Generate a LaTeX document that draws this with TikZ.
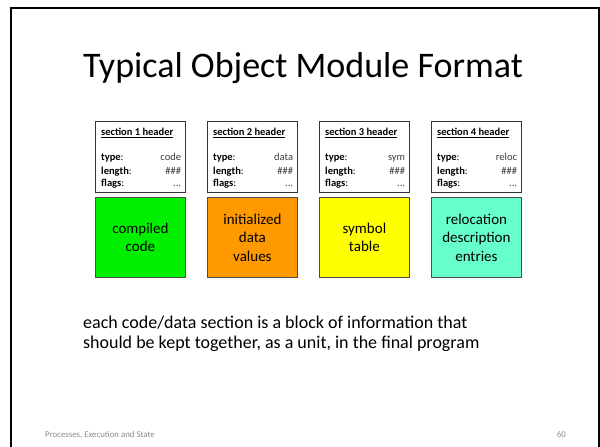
\documentclass[tikz,border=0pt]{standalone}
\usepackage{fontspec}
\setmainfont{Carlito}
\definecolor{codegreen}{RGB}{0,240,0}
\definecolor{dataorange}{RGB}{255,153,0}
\definecolor{symyellow}{RGB}{255,255,0}
\definecolor{relocaqua}{RGB}{102,255,204}
\definecolor{footgray}{RGB}{140,140,140}
\definecolor{valgray}{RGB}{60,60,60}
\tikzset{
  hdr/.style={draw=black!80, line width=0.8pt, fill=white, minimum width=90pt, minimum height=71pt,
    inner sep=0pt, anchor=north west},
  hdrtxt/.style={inner sep=0pt, font=\fontsize{10.5}{11}\selectfont},
  hdrval/.style={hdrtxt, text=valgray},
  body/.style={draw=black!70, line width=0.8pt, minimum width=90pt, minimum height=80pt,
    text width=86pt, align=center, inner sep=0pt, font=\fontsize{15}{18.5}\selectfont, anchor=north west},
  foot/.style={inner sep=0pt, text=footgray, font=\fontsize{8.8}{10}\selectfont},
}
% a section header box with its four text lines
\newcommand{\sectionheader}[4]{% name, left x, number, type value
  \node[hdr] (#1) at (#2,121) {};
  \node[hdrtxt, anchor=base west] (#1-title) at ([xshift=6pt,yshift=-14.5pt]#1.north west) {\underline{\textbf{section #3 header}}};
  \node[hdrtxt, anchor=base west] (#1-type) at ([xshift=6pt,yshift=-39.5pt]#1.north west) {\textbf{type}:};
  \node[hdrval, anchor=base east] (#1-typev) at ([xshift=-4.5pt,yshift=-39.5pt]#1.north east) {#4};
  \node[hdrtxt, anchor=base west] (#1-len) at ([xshift=6pt,yshift=-53pt]#1.north west) {\textbf{length}:};
  \node[hdrval, anchor=base east] (#1-lenv) at ([xshift=-4.5pt,yshift=-53pt]#1.north east) {\#\#\#};
  \node[hdrtxt, anchor=base west] (#1-flags) at ([xshift=6pt,yshift=-65pt]#1.north west) {\textbf{flags}:};
  \node[hdrval, anchor=base east] (#1-flagsv) at ([xshift=-4.5pt,yshift=-65pt]#1.north east) {...};
}
\begin{document}
\begin{tikzpicture}[x=1pt,y=-1pt]
  \useasboundingbox (0,0) rectangle (600,447);
  \fill[white] (0,0) rectangle (600,447);
  % slide frame
  \draw[line width=2pt] (10.5,450) -- (10.5,7.5) -- (598.5,7.5) -- (598.5,450);
  % title
  \node[font=\fontsize{36}{40}\selectfont, anchor=base, inner sep=0pt] (title) at (303,77) {Typical Object Module Format};
  % section headers
  \sectionheader{h1}{95}{1}{code}
  \sectionheader{h2}{207}{2}{data}
  \sectionheader{h3}{319}{3}{sym}
  \sectionheader{h4}{431}{4}{reloc}
  % section contents
  \node[body, fill=codegreen] (b1) at (95,197) {compiled\\code};
  \node[body, fill=dataorange] (b2) at (207,197) {initialized\\data\\values};
  \node[body, fill=symyellow] (b3) at (319,197) {symbol\\table};
  \node[body, fill=relocaqua] (b4) at (431,197) {relocation\\description\\entries};
  % explanation
  \node[anchor=base west, align=left, inner sep=0pt, font=\fontsize{18}{20}\selectfont] (note) at (83,348)
    {each code/data section is a block of information that\\should be kept together, as a unit, in the final program};
  % footer
  \node[foot, anchor=base west] (footer) at (45,437) {Processes, Execution and State};
  \node[foot, anchor=base east] (page) at (566,437) {60};
\end{tikzpicture}
\end{document}
